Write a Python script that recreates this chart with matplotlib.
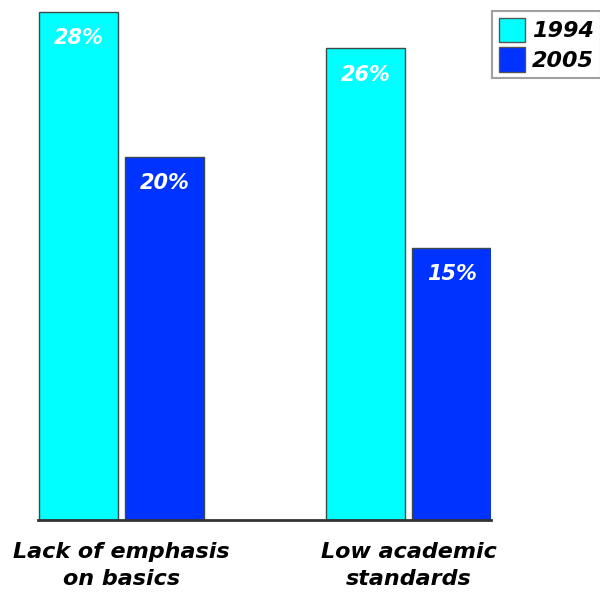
import matplotlib
matplotlib.use("Agg")
import matplotlib.pyplot as plt
import numpy as np

categories = ["Lack of emphasis\non basics", "Low academic\nstandards"]
years = ["1994", "2005"]
values_1994 = [28, 26]
values_2005 = [20, 15]
colors = ["#00FFFF", "#0033FF"]

fig = plt.figure(figsize=(6.0, 5.92), dpi=100)
W, H = 600, 592
left, right, bottom, top = 38, 491, 520, 0
ax = fig.add_axes([left / W, 1 - bottom / H, (right - left) / W, (bottom - top) / H])

x = np.arange(len(categories))
width = 0.275
offset = 0.15
series = [values_1994, values_2005]
for i, (vals, col, yr) in enumerate(zip(series, colors, years)):
    pos = x + (i - 0.5) * 2 * offset
    bars = ax.bar(pos, vals, width=width, color=col, edgecolor="#3a4a4a",
                  linewidth=1.0, label=yr, zorder=2)
    for b, v in zip(bars, vals):
        ax.text(b.get_x() + b.get_width() / 2, v - 1.45, f"{v}%",
                ha="center", va="center", color="white", fontsize=15,
                fontweight="bold", fontstyle="italic", zorder=3)

ax.set_xlim(-0.291, 1.287)
ax.set_ylim(0, 28 * 520 / 508)
for s in ["top", "left", "right"]:
    ax.spines[s].set_visible(False)
ax.spines["bottom"].set_color("#333333")
ax.spines["bottom"].set_linewidth(2.0)
ax.set_yticks([])
ax.set_xticks(x)
ax.set_xticklabels(categories, fontsize=16, fontweight="bold", fontstyle="italic",
                   linespacing=1.4)
ax.tick_params(axis="x", length=0, pad=16)

leg = fig.legend(loc="upper left", bbox_to_anchor=(492 / W, 1 - 11 / H),
                 borderaxespad=0,
                 prop={"weight": "bold", "style": "italic", "size": 16},
                 handlelength=1.2, handleheight=1.3, labelspacing=0.25,
                 handletextpad=0.3, borderpad=0.3, fancybox=False, frameon=True,
                 edgecolor="#888888")
leg.get_frame().set_linewidth(1.5)
for h in leg.legend_handles:
    h.set_edgecolor("#555555")

fig.savefig("out.png", dpi=100)
